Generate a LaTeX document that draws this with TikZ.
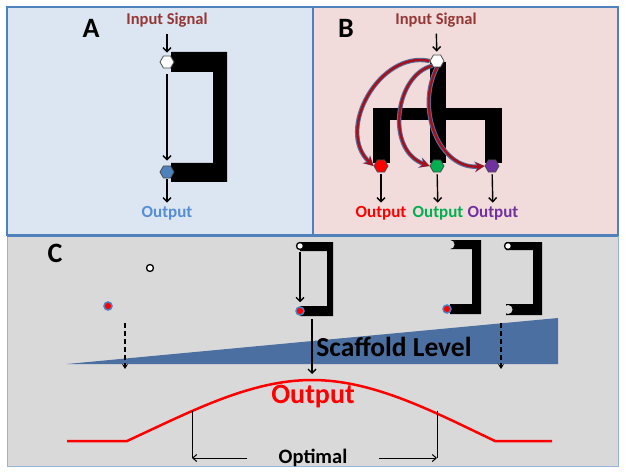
\documentclass[tikz,border=0pt]{standalone}
\usepackage{fontspec}
\setmainfont{Carlito}
\usepackage{tikz}
\usetikzlibrary{arrows.meta}
\usetikzlibrary{calc}
\usetikzlibrary{shapes.geometric}
\usetikzlibrary{positioning}
\definecolor{paneblue}{HTML}{DCE6F2}
\definecolor{panepink}{HTML}{F2DCDB}
\definecolor{panegray}{HTML}{D9D9D9}
\definecolor{frameblue}{HTML}{4F81BD}
\definecolor{signalred}{HTML}{953735}
\definecolor{outblue}{HTML}{558ED5}
\definecolor{hexblue}{HTML}{4F81BD}
\definecolor{outgreen}{HTML}{00B050}
\definecolor{outpurple}{HTML}{7030A0}
\definecolor{wedgeblue}{HTML}{4A6FA0}
\definecolor{arcred}{HTML}{A50F1E}
\definecolor{arcblue}{HTML}{56709A}
\tikzset{hex/.style={regular polygon, regular polygon sides=6, draw=black!70, line width=0.8pt, minimum size=14pt, inner sep=0pt}}
\tikzset{signal/.style={font=\bfseries\fontsize{16.5}{16.5}\selectfont, text=signalred}}
\tikzset{outtext/.style={font=\bfseries\fontsize{17}{17}\selectfont}}
\tikzset{panel/.style={font=\bfseries\fontsize{28}{28}\selectfont}}
\tikzset{arrow/.style={-{Straight Barb[length=4pt,width=8pt]}, line width=1.4pt}}
\tikzset{dasharrow/.style={-{Stealth[length=5pt,width=6pt]}, line width=1.3pt, dash pattern=on 5pt off 3pt}}
\tikzset{arcarrow/.style={draw=arcred, line width=2.4pt, -{Stealth[length=9pt,width=9pt]},
    preaction={draw=arcblue, line width=4.4pt, -{Stealth[length=10pt,width=11pt]}}}}
\tikzset{indot/.style={circle, fill=white, draw=black, line width=1.3pt, minimum size=7pt, inner sep=0pt}}
\tikzset{outdot/.style={circle, fill=red, draw=hexblue, line width=1.5pt, minimum size=8pt, inner sep=0pt}}
\newcommand{\panels}{
    \fill[white] (0,0) rectangle (626,473);
    \fill[paneblue] (7,7) rectangle (313,235);
    \fill[panepink] (313,7) rectangle (618,235);
    \fill[panegray] (7,236) rectangle (618,466);
    \draw[frameblue, line width=1.2pt] (7,7) rectangle (313,235);
    \draw[frameblue, line width=1.2pt] (313,7) rectangle (618,235);
    \draw[frameblue!60, line width=0.8pt] (7,236) rectangle (618,466);
    \draw[frameblue, line width=2.5pt] (7,236) -- (618,236);
}

\begin{document}
\begin{tikzpicture}[x=1pt,y=-1pt]
        \useasboundingbox (0,0) rectangle (626,473);
        \panels

        % A
        \fill (171,52) -- (227,52) -- (227,182) -- (171,182) -- (171,163)
            -- (213,163) -- (213,72) -- (171,72) -- cycle;
        \node[panel] (labA) at (91,28) {A};
        \node[signal] (inA) at (167,20) {Input Signal};
        \node[hex, fill=white] (hexA) at (167,62) {};
        \node[hex, fill=hexblue] (hexAo) at (167,172) {};
        \node[outtext, text=outblue] (outA) at (167,213) {Output};
        \draw[arrow, shorten <=3pt, shorten >=3pt] (inA) -- (hexA);
        \draw[arrow, shorten <=6pt, shorten >=5pt] (hexA) -- (hexAo);
        \draw[arrow, shorten <=1pt] (hexAo) -- (outA);

        % B
        \fill (430,62) rectangle (446,163);
        \fill (373,108) rectangle (502,120);
        \fill (373,108) rectangle (390,163);
        \fill (485,108) rectangle (502,163);
        \node[panel] (labB) at (346,28) {B};
        \node[signal] (inB) at (436,20) {Input Signal};
        \node[hex, fill=white] (hexB) at (437,61) {};
        \node[hex, fill=red] (hexR) at (381,166) {};
        \node[hex, fill=outgreen] (hexG) at (437,166) {};
        \node[hex, fill=outpurple] (hexP) at (492,166) {};
        \node[outtext, text=red] (outR) at (381,213) {Output};
        \node[outtext, text=outgreen] (outG) at (438,213) {Output};
        \node[outtext, text=outpurple] (outP) at (493,213) {Output};
        \draw[arrow, shorten <=3pt, shorten >=3pt] (inB) -- (hexB);
        \draw[arrow, shorten <=2pt] (hexR) -- (outR);
        \draw[arrow, shorten <=2pt] (hexG) -- (outG);
        \draw[arrow, shorten <=2pt] (hexP) -- (outP);
        \draw[arcarrow] (hexB.west) .. controls (380,50) and (335,130) .. (hexR.west);
        \draw[arcarrow] (hexB.south west) .. controls (395,75) and (385,150) .. (hexG.west);
        \draw[arcarrow] (hexB.south) .. controls (415,110) and (440,170) .. (hexP.west);

        % C
        \fill[wedgeblue] (67,364) -- (558,318) -- (558,364) -- cycle;
        \fill (300,242) -- (333,242) -- (333,316) -- (300,316) -- (300,306)
            -- (327,306) -- (327,251) -- (300,251) -- cycle;
        \fill (450,240) -- (481,240) -- (481,314) -- (450,314) -- (450,304)
            -- (472,304) -- (472,249) -- (450,249) -- cycle;
        \fill[panegray] (450,244.5) circle[radius=4.5pt];
        \fill (506,242) -- (542,242) -- (542,315) -- (506,315) -- (506,304)
            -- (533,304) -- (533,250) -- (506,250) -- cycle;
        \fill[panegray] (508,309.5) circle[radius=4.5pt];
        \node[panel] (labC) at (55,253) {C};
        \node[indot] (freeIn) at (150,268) {};
        \node[outdot] (freeOut) at (108,306) {};
        \node[indot] (midIn) at (300,246) {};
        \node[outdot] (midOut) at (300,311) {};
        \node[outdot] (hiOut) at (447,309) {};
        \node[indot] (hiIn) at (508,246) {};
        \node[font=\bfseries\fontsize{27.5}{27.5}\selectfont] (scaf) at (394,347) {Scaffold Level};
        \node[font=\bfseries\fontsize{28}{28}\selectfont, text=red] (outC) at (313,397) {Output};
        \node[font=\bfseries\fontsize{20.5}{20.5}\selectfont] (optimal) at (313,458) {Optimal};
        \coordinate (lowTop) at (125,323);
        \coordinate (lowEnd) at (125,369);
        \coordinate (hiTop) at (501,323);
        \coordinate (hiEnd) at (501,369);
        \coordinate (midTop) at (312,319);
        \coordinate (peak) at (312,374);
        \coordinate (optL) at (192,411);
        \coordinate (optR) at (437,411);
        \draw[dasharrow] (lowTop) -- (lowEnd);
        \draw[dasharrow] (hiTop) -- (hiEnd);
        \draw[arrow, shorten <=2pt, shorten >=4pt] (midIn) -- (midOut);
        \draw[arrow] (midTop) -- (peak);
        \draw[red, line width=2.5pt] (67,441) -- (127,441)
            .. controls (190,412) and (250,380) .. (312,380)
            .. controls (374,380) and (434,412) .. (495,441) -- (552,441);
        \draw[line width=1pt] (optL) -- (optL |- optimal);
        \draw[line width=1pt] (optR) -- (optR |- optimal);
        \draw[-{Straight Barb[length=4pt,width=7pt]}, line width=1pt]
            ([xshift=-28pt]optimal.west) -- (optL |- optimal);
        \draw[-{Straight Barb[length=4pt,width=7pt]}, line width=1pt]
            ([xshift=28pt]optimal.east) -- (optR |- optimal);
	\end{tikzpicture}
\end{document}
